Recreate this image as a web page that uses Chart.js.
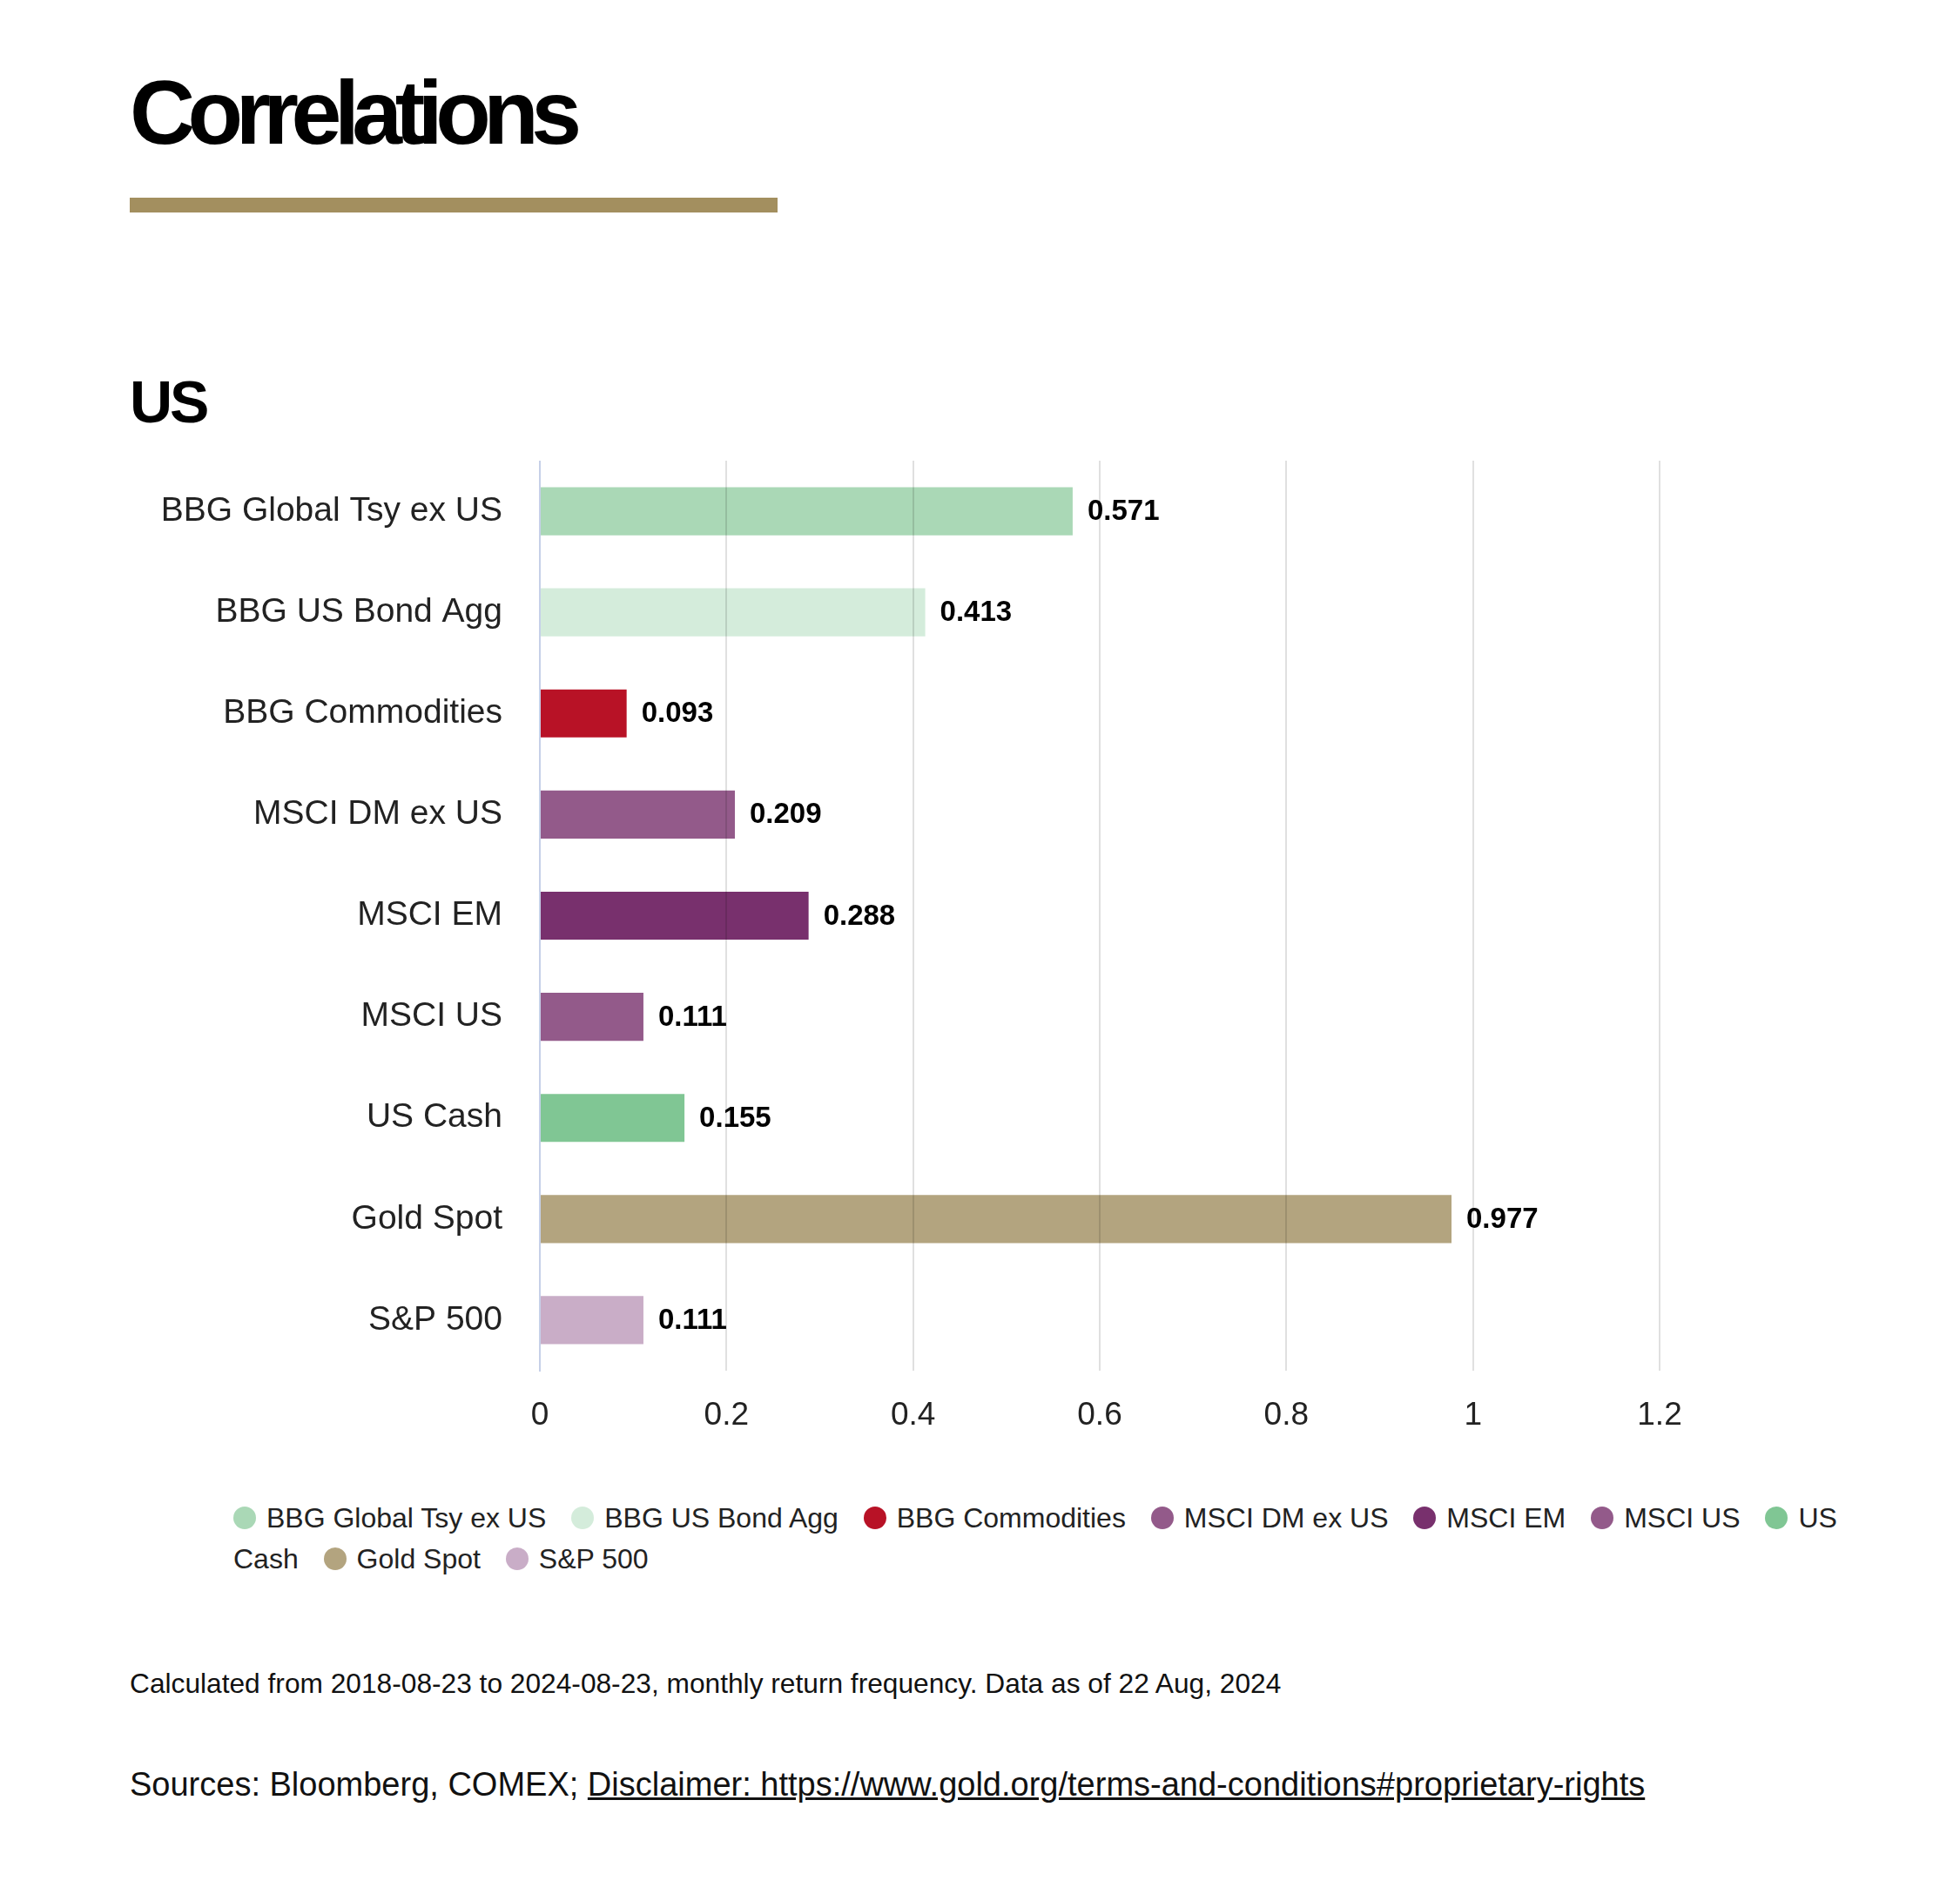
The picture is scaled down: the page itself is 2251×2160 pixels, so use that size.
<!DOCTYPE html>
<html>
  <head>
    <script src="https://cdn.jsdelivr.net/npm/chart.js@4"></script>
    <style>
      body { margin: 0; background: #fff; font-family: 'Liberation Sans', Arial, sans-serif; color: #111; }
      .page { position: relative; width: 2251px; height: 2160px; }
      .title { position: absolute; left: 149px; top: 77px; font-size: 104px; line-height: 1; font-weight: bold; letter-spacing: -8.5px; color: #000; }
      .rule { position: absolute; left: 149px; top: 227px; width: 744px; height: 17px; background: #a38f5f; }
      .sub { position: absolute; left: 149px; top: 427px; font-size: 68px; line-height: 1; font-weight: bold; letter-spacing: -3px; color: #000; }
      .chartbox { position: absolute; left: 150px; top: 529px; width: 1800px; height: 1145px; }
      .legend { position: absolute; left: 268px; top: 1720px; width: 1872px; font-size: 32px; line-height: 47px; color: #222; }
      .legend .dot { display: inline-block; width: 26px; height: 26px; border-radius: 50%; margin-right: 12px; vertical-align: -2px; }
      .legend .item { margin-right: 20px; }
      .note { position: absolute; left: 149px; top: 1918px; font-size: 31.7px; line-height: 1; color: #111; }
      .src { position: absolute; left: 149px; top: 2030px; font-size: 38px; line-height: 1; color: #111; }
      .src a { color: #111; }
    </style>
  </head>

  <body>
    <div class="page">
      <div class="title">Correlations</div>
      <div class="rule"></div>
      <div class="sub">US</div>
      <div class="chartbox"><canvas id="canvas"></canvas></div>
      <div class="legend" id="legend"></div>
      <div class="note">Calculated from 2018-08-23 to 2024-08-23, monthly return frequency. Data as of 22 Aug, 2024</div>
      <div class="src">Sources: Bloomberg, COMEX; <a href="#">Disclaimer: https://www.gold.org/terms-and-conditions#proprietary-rights</a></div>
    </div>
    <script>
      const assets = ['BBG Global Tsy ex US', 'BBG US Bond Agg', 'BBG Commodities', 'MSCI DM ex US', 'MSCI EM', 'MSCI US', 'US Cash', 'Gold Spot', 'S&P 500'];
      const correlation = [0.571, 0.413, 0.093, 0.209, 0.288, 0.111, 0.155, 0.977, 0.111];
      const colours = ['#aad8b6', '#d4ecdb', '#b81226', '#935a8a', '#78306d', '#935a8a', '#80c694', '#b3a47f', '#c9adc7'];
      const xTicks = [0, 0.2, 0.4, 0.6, 0.8, 1, 1.2];

      const fontFamily = "'Liberation Sans', Arial, sans-serif";

      // value labels at the end of each bar
      const valueLabels = {
        id: 'valueLabels',
        afterDatasetsDraw(chart) {
          const ctx = chart.ctx;
          const meta = chart.getDatasetMeta(0);
          ctx.save();
          ctx.font = 'bold 33px ' + fontFamily;
          ctx.fillStyle = '#000';
          ctx.textBaseline = 'middle';
          ctx.textAlign = 'left';
          meta.data.forEach((bar, i) => {
            ctx.fillText(String(correlation[i]), bar.x + 17, bar.y + 1);
          });
          ctx.restore();
        },
      };

      const chart = new Chart(document.getElementById('canvas').getContext('2d'), {
        type: 'bar',
        data: {
          labels: assets,
          datasets: [
            {
              label: 'Correlation',
              data: correlation,
              backgroundColor: colours,
              borderWidth: 0,
              barPercentage: 0.475,
              categoryPercentage: 1,
            },
          ],
        },
        options: {
          indexAxis: 'y',
          responsive: true,
          maintainAspectRatio: false,
          animation: false,
          layout: { padding: { left: 0, right: 44, top: 0, bottom: 0 } },
          plugins: {
            legend: { display: false },
            tooltip: { enabled: false },
          },
          scales: {
            x: {
              min: 0,
              max: 1.2,
              afterBuildTicks(scale) {
                scale.ticks = xTicks.map((v) => ({ value: v }));
              },
              afterFit(scale) {
                scale.height = 100;
                scale.paddingLeft = 0;
                scale.paddingRight = 0;
              },
              grid: { color: 'rgba(0,0,0,0.12)', lineWidth: 2, drawTicks: false, z: 1 },
              border: { display: false },
              ticks: {
                padding: 30,
                color: '#222',
                font: { family: fontFamily, size: 37 },
                callback: (v) => String(v),
              },
            },
            y: {
              afterFit(scale) {
                scale.width = 470;
                scale.paddingTop = 0;
                scale.paddingBottom = 0;
              },
              grid: { display: false, drawTicks: false },
              border: { display: true, color: '#c6d0e8', width: 2, z: 2 },
              ticks: {
                padding: 43,
                color: '#222',
                font: { family: fontFamily, size: 39 },
              },
            },
          },
        },
        plugins: [valueLabels],
      });

      // html legend so long rows wrap like the original
      const legend = document.getElementById('legend');
      legend.innerHTML = chart.data.labels
        .map((lab, i) => '<span class="item"><span class="dot" style="background:' + colours[i] + '"></span>' + lab.replace('&', '&amp;') + '</span>')
        .join(' ');
    </script>
  </body>
</html>
